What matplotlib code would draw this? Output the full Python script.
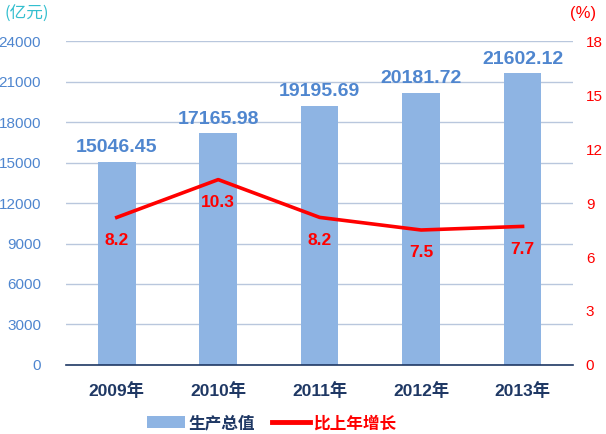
import matplotlib
matplotlib.use("Agg")
import matplotlib.pyplot as plt
from matplotlib.lines import Line2D
from matplotlib.patches import Patch

plt.rcParams['font.family'] = ['Liberation Sans', 'Noto Sans CJK SC', 'DejaVu Sans']

years = ["2009年", "2010年", "2011年", "2012年", "2013年"]
gdp = [15046.45, 17165.98, 19195.69, 20181.72, 21602.12]
growth = [8.2, 10.3, 8.2, 7.5, 7.7]
left_ticks = [0, 3000, 6000, 9000, 12000, 15000, 18000, 21000, 24000]
right_ticks = [0, 3, 6, 9, 12, 15, 18]

bar_color = "#8EB4E3"
label_blue = "#4F86CF"
navy = "#1F3864"
red = "#FF0000"

fig = plt.figure(figsize=(6.06, 4.34), dpi=100)
ax = fig.add_axes([0.109, 0.159, 0.837, 0.7465])
x = list(range(len(years)))
ax.bar(x, gdp, width=0.37, color=bar_color, zorder=2)
ax.set_xlim(-0.5, len(years) - 0.5)
ax.set_ylim(0, 24000)
ax.set_yticks(left_ticks)
ax.set_yticklabels([str(t) for t in left_ticks], color=label_blue, fontsize=11)
ax.tick_params(axis='y', length=0, pad=18)
ax.set_xticks(x)
ax.set_xticklabels(years, fontsize=12.5, fontweight='bold', color=navy,
                   family=['Liberation Sans', 'Noto Sans CJK SC'])
ax.tick_params(axis='x', length=0, pad=12)
ax.grid(axis='y', color="#B9C7DD", linewidth=1, zorder=0)
for s in ['top', 'right', 'left']:
    ax.spines[s].set_visible(False)
ax.spines['bottom'].set_color(navy)
ax.spines['bottom'].set_linewidth(1.2)
for xi, v in zip(x, gdp):
    ax.text(xi, v + 400, f"{v:.2f}", ha='center', va='bottom', color=label_blue,
            fontsize=14, fontweight='bold')

ax2 = ax.twinx()
ax2.plot(x, growth, color=red, linewidth=2.6, zorder=3)
ax2.set_ylim(0, 18)
ax2.set_yticks(right_ticks)
ax2.set_yticklabels([str(t) for t in right_ticks], color=red, fontsize=11)
ax2.tick_params(axis='y', length=0, pad=9)
for s in ['top', 'right', 'left', 'bottom']:
    ax2.spines[s].set_visible(False)
for xi, v in zip(x, growth):
    ax2.text(xi, v - 0.85, f"{v}", ha='center', va='top', color=red,
             fontsize=12.5, fontweight='bold')

fig.text(0.008, 0.968, "(亿元)", color="#33BFCF", fontsize=12,
         family=['Noto Sans CJK SC'], ha='left', va='center')
fig.text(0.983, 0.968, "(%)", color=red, fontsize=12, ha='right', va='center')

handles = [Patch(facecolor=bar_color, edgecolor='none'),
           Line2D([0], [0], color=red, linewidth=3.5)]
leg = fig.legend(handles, ["生产总值", "比上年增长"], loc='center',
                 bbox_to_anchor=(0.448, 0.025), ncol=2, frameon=False,
                 prop={'family': ['Noto Sans CJK SC'], 'size': 12, 'weight': 'bold'},
                 handlelength=2.3, handletextpad=0.2, columnspacing=1.0)
texts = leg.get_texts()
texts[0].set_color(navy)
texts[1].set_color(red)

fig.savefig("out.png", dpi=100)
